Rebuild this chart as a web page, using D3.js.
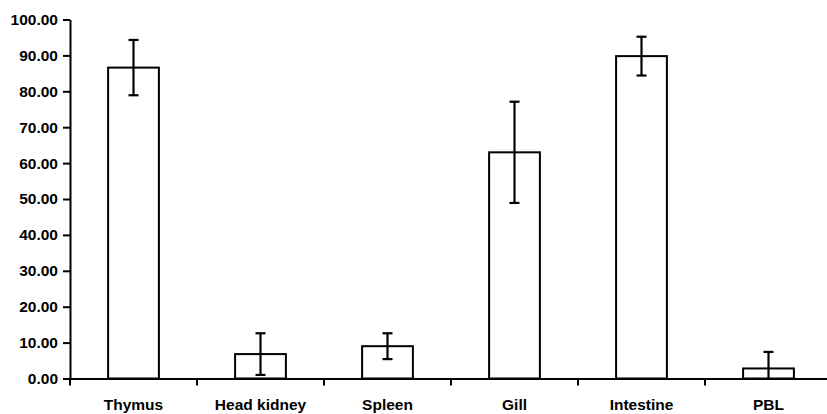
<!DOCTYPE html>
<html>
<head>
<meta charset="utf-8">
<script src="https://cdn.jsdelivr.net/npm/d3@7"></script>
<style>
  body { margin: 0; background: #fff; }
  text { font-family: "Liberation Sans", Arial, sans-serif; font-weight: bold; fill: #000; }
</style>
</head>
<body>
<svg id="chart" width="827" height="414"></svg>
<script>
const tissues = ["Thymus", "Head kidney", "Spleen", "Gill", "Intestine", "PBL"];
const means = [86.6, 6.8, 9.0, 63.0, 89.8, 2.8];
const errors = [7.7, 5.8, 3.6, 14.1, 5.4, 4.6];
const yTicks = [0, 10, 20, 30, 40, 50, 60, 70, 80, 90, 100];

const svg = d3.select("#chart"),
  margin = { top: 19.5, right: -5, bottom: 35.5, left: 70 },
  width = +svg.attr("width") - margin.left - margin.right,
  height = +svg.attr("height") - margin.top - margin.bottom;

const chart = svg.append("g").attr("transform", `translate(${margin.left},${margin.top})`);

const x = d3.scaleBand().domain(tissues).range([0, width]).padding(0);
const y = d3.scaleLinear().domain([0, 100]).range([height, 0]);
const barW = x.bandwidth() * 0.4;

// y axis
const yAxis = chart.append("g")
  .call(d3.axisLeft(y).tickValues(yTicks).tickSize(7).tickSizeOuter(0).tickPadding(5).tickFormat(d3.format(".2f")));
yAxis.selectAll("path, line").attr("stroke", "#000").attr("stroke-width", 2);
yAxis.selectAll("text").style("font-size", "15.5px").style("font-family", null);

// x axis
const xAxis = chart.append("g")
  .attr("transform", `translate(0,${height})`)
  .call(d3.axisBottom(x).tickSize(0).tickSizeOuter(0).tickPadding(20));
xAxis.select(".domain").attr("stroke", "#000").attr("stroke-width", 2);
xAxis.selectAll("text").style("font-size", "15.5px").style("font-family", null);

chart.append("g").selectAll("line")
  .data(tissues.concat([null]))
  .join("line")
  .attr("x1", d => d === null ? width : x(d))
  .attr("x2", d => d === null ? width : x(d))
  .attr("y1", height)
  .attr("y2", height + 7)
  .attr("stroke", "#000")
  .attr("stroke-width", 2);

// bars
chart.append("g").selectAll("rect")
  .data(tissues)
  .join("rect")
  .attr("x", d => x(d) + (x.bandwidth() - barW) / 2)
  .attr("y", (d, i) => y(means[i]))
  .attr("width", barW)
  .attr("height", (d, i) => height - y(means[i]))
  .attr("fill", "#fff")
  .attr("stroke", "#000")
  .attr("stroke-width", 2);

// error bars
const err = chart.append("g").selectAll("g")
  .data(tissues)
  .join("g")
  .attr("transform", d => `translate(${x(d) + x.bandwidth() / 2},0)`);

err.append("line")
  .attr("y1", (d, i) => y(means[i] + errors[i]))
  .attr("y2", (d, i) => y(Math.max(0, means[i] - errors[i])))
  .attr("stroke", "#000").attr("stroke-width", 2.2);

err.append("line")
  .attr("x1", -5).attr("x2", 5)
  .attr("y1", (d, i) => y(means[i] + errors[i]))
  .attr("y2", (d, i) => y(means[i] + errors[i]))
  .attr("stroke", "#000").attr("stroke-width", 2.2);

err.filter((d, i) => means[i] - errors[i] > 0).append("line")
  .attr("x1", -5).attr("x2", 5)
  .attr("y1", d => { const i = tissues.indexOf(d); return y(means[i] - errors[i]); })
  .attr("y2", d => { const i = tissues.indexOf(d); return y(means[i] - errors[i]); })
  .attr("stroke", "#000").attr("stroke-width", 2.2);
</script>
</body>
</html>
